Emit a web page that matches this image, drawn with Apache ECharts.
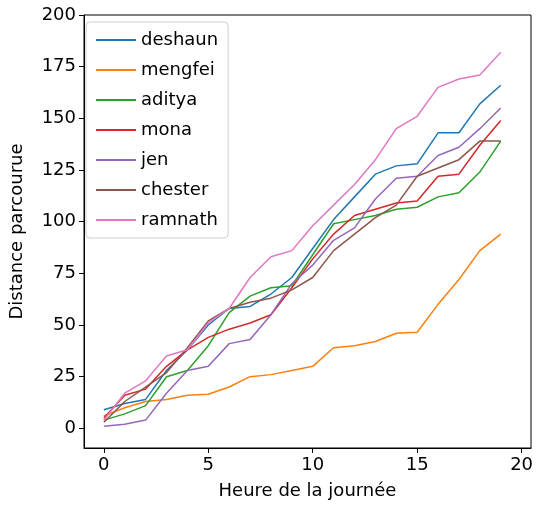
<!DOCTYPE html><html><head><meta charset="utf-8"><script src="https://cdn.jsdelivr.net/npm/echarts@6/dist/echarts.min.js"></script></head><body style="margin:0"><div id="c" style="width:542px;height:505px"></div><script>
const hours=[0,1,2,3,4,5,6,7,8,9,10,11,12,13,14,15,16,17,18,19];
const names=['deshaun','mengfei','aditya','mona','jen','chester','ramnath'];
const colors=['#1f77b4','#ff7f0e','#2ca02c','#d62728','#9467bd','#8c564b','#e377c2'];
const deshaun=[9,12,14,28,38,50,58,59,65,73,87,101,112,123,127,128,143,143,157,166];
const mengfei=[6,10,13,14,16,16.5,20,25,26,28,30,39,40,42,46,46.5,60,72,86,94];
const aditya=[4,7,11,25,28,40,56,64,68,69,84,99,101,103,106,107,112,114,124,139];
const mona=[5,16,19,30,38,44,48,51,55,68,82,94,103,106,109,110,122,123,137,149];
const jen=[1,2,4,17,28,30,41,43,55,70,79,91,97,111,121,122,132,136,145,155];
const chester=[3,13,20,27,39,52,58,61,63,67,73,86,94,102,108,122,126,130,139,139];
const ramnath=[4,17,23,35,38,51,58,73,83,86,98,108,118,130,145,151,165,169,171,182];
const data=[deshaun,mengfei,aditya,mona,jen,chester,ramnath];
const xTicks=[0,5,10,15,20], yTicks=[0,25,50,75,100,125,150,175,200];
const f='DejaVu Sans';
const ch=echarts.init(document.getElementById('c'));
ch.setOption({animation:false,
grid:{left:77,right:11,top:15,bottom:55,show:true,borderColor:'#000',borderWidth:1},
legend:{orient:'vertical',left:86,top:22,itemWidth:40,itemHeight:2,itemGap:12,icon:'rect',
 textStyle:{fontFamily:f,fontSize:18,color:'#000'},borderColor:'#ccc',borderWidth:1,borderRadius:4,padding:[9,10],
 data:names},
xAxis:{type:'value',min:-0.95,max:20.45,name:'Heure de la journée',nameLocation:'middle',nameGap:34,
 nameTextStyle:{fontFamily:f,fontSize:18,color:'#000'},splitLine:{show:false},
 axisLine:{onZero:false,lineStyle:{color:'#000'}},
 axisTick:{customValues:xTicks,lineStyle:{color:'#000'}},
 axisLabel:{customValues:xTicks,fontFamily:f,fontSize:18,color:'#000'}},
yAxis:{type:'value',min:-9.5,max:200,name:'Distance parcourue',nameLocation:'middle',nameGap:58,
 nameTextStyle:{fontFamily:f,fontSize:18,color:'#000'},splitLine:{show:false},
 axisLine:{show:true,onZero:false,lineStyle:{color:'#000'}},
 axisTick:{show:true,customValues:yTicks,lineStyle:{color:'#000'}},
 axisLabel:{customValues:yTicks,fontFamily:f,fontSize:18,color:'#000'}},
series:names.map((n,i)=>({name:n,type:'line',data:hours.map((h,j)=>[h,data[i][j]]),
 showSymbol:false,color:colors[i],lineStyle:{width:1.5,color:colors[i]}}))
});
</script></body></html>
